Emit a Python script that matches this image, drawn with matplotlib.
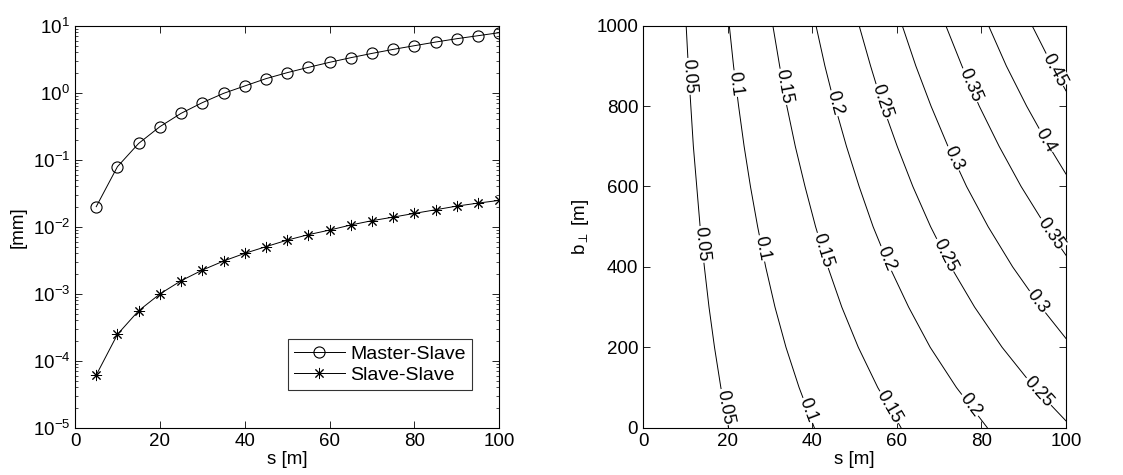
import matplotlib
matplotlib.use("Agg")
import matplotlib.pyplot as plt
import numpy as np

plt.rcParams["font.family"] = ["Liberation Sans", "DejaVu Sans"]
plt.rcParams["mathtext.fontset"] = "custom"
plt.rcParams["mathtext.rm"] = "Liberation Sans"
plt.rcParams["mathtext.it"] = "Liberation Sans:italic"
plt.rcParams["mathtext.bf"] = "Liberation Sans:bold"

# left panel: offsets vs s
s_vals = [5, 10, 15, 20, 25, 30, 35, 40, 45, 50, 55, 60, 65, 70, 75, 80, 85, 90, 95, 100]
master_slave = [0.0199, 0.0787, 0.175, 0.311, 0.492, 0.71, 0.977, 1.26, 1.62, 1.99,
                2.39, 2.84, 3.33, 3.86, 4.43, 5.03, 5.70, 6.40, 7.09, 7.87]
slave_slave = [6.1e-5, 2.47e-4, 5.57e-4, 9.9e-4, 1.56e-3, 2.25e-3, 3.07e-3, 4.0e-3, 5.03e-3, 6.3e-3,
               7.6e-3, 8.9e-3, 0.0106, 0.0123, 0.0139, 0.0158, 0.0179, 0.0203, 0.0225, 0.0247]

# right panel: contour lines, s position read at each b
levels = [0.05, 0.1, 0.15, 0.2, 0.25, 0.3, 0.35, 0.4, 0.45]
b_full = [0, 100, 200, 300, 400, 500, 600, 700, 800, 900, 1000]
line_b = [
    b_full,
    b_full,
    b_full,
    b_full,
    [17, 100, 200, 300, 400, 500, 600, 700, 800, 900, 1000],
    [222, 300, 400, 500, 600, 700, 800, 900, 1000],
    [429, 500, 600, 700, 800, 900, 1000],
    [631, 700, 800, 900, 1000],
    [838, 900, 1000],
]
line_s = [
    [20.2, 18.4, 16.9, 15.6, 14.5, 13.5, 12.7, 11.9, 11.3, 10.7, 10.2],
    [40.5, 36.9, 33.8, 31.2, 29.0, 27.1, 25.4, 23.9, 22.6, 21.4, 20.4],
    [61.0, 55.5, 50.9, 47.0, 43.7, 40.8, 38.3, 36.0, 34.0, 32.3, 30.7],
    [81.4, 74.1, 67.9, 62.8, 58.3, 54.4, 51.1, 48.1, 45.4, 43.0, 40.9],
    [100, 92.5, 84.9, 78.4, 72.8, 68.0, 63.8, 60.1, 56.7, 53.8, 51.1],
    [100, 94.1, 87.4, 81.6, 76.5, 72.1, 68.1, 64.5, 61.3],
    [100, 95.3, 89.4, 84.2, 79.5, 75.4, 71.6],
    [100, 96.0, 90.7, 85.9, 81.7],
    [100, 96.8, 92.0],
]
label_b = [
    [874, 456, 51],
    [856, 446, 43],
    [848, 441, 51],
    [807, 421, 56],
    [811, 429, 89],
    [670, 313],
    [852, 483],
    [715],
    [890],
]

fig = plt.figure(figsize=(11.23, 4.75), dpi=100)
fs = 13.5

ax1 = fig.add_axes([0.0668, 0.0996, 0.3778, 0.8463])
ax1.semilogy(s_vals, master_slave, "k-o", mfc="none", ms=8, lw=0.7, mew=0.8, label="Master-Slave")
ax1.semilogy(s_vals, slave_slave, "k-", marker=(8, 2, 0), ms=8, lw=0.7, mew=0.7, label="Slave-Slave")
ax1.set_xlim(0, 100)
ax1.set_ylim(1e-5, 10)
ax1.set_xticks([0, 20, 40, 60, 80, 100])
ax1.set_yticks([1e-5, 1e-4, 1e-3, 1e-2, 1e-1, 1, 10])
ax1.set_xlabel("s [m]", fontsize=fs, labelpad=1)
ax1.set_ylabel("[mm]", fontsize=fs, labelpad=4)
leg = ax1.legend(loc="lower right", bbox_to_anchor=(0.935, 0.094), fontsize=14,
                 frameon=True, fancybox=False, edgecolor="k", handlelength=2.6,
                 borderpad=0.3, labelspacing=0.2, handletextpad=0.3, borderaxespad=0)
leg.get_frame().set_linewidth(0.8)

ax2 = fig.add_axes([0.5726, 0.0996, 0.3766, 0.8463])
ax2.set_xlim(0, 100)
ax2.set_ylim(0, 1000)
for lvl, bs, ss, lbs in zip(levels, line_b, line_s, label_b):
    ax2.plot(ss, bs, "k-", lw=0.7, zorder=2)
    b_arr = np.array(bs, dtype=float)
    s_arr = np.array(ss, dtype=float)
    for lb in lbs:
        ls = np.interp(lb, b_arr, s_arr)
        p0 = ax2.transData.transform((np.interp(lb + 30, b_arr, s_arr), lb + 30))
        p1 = ax2.transData.transform((np.interp(lb - 30, b_arr, s_arr), lb - 30))
        ang = np.degrees(np.arctan2(p1[1] - p0[1], p1[0] - p0[0]))
        ax2.text(ls, lb, f"{lvl:g}", rotation=ang, rotation_mode="anchor",
                 ha="center", va="center", fontsize=13, zorder=3,
                 bbox=dict(boxstyle="square,pad=0.05", fc="white", ec="none"))
ax2.set_xticks([0, 20, 40, 60, 80, 100])
ax2.set_yticks([0, 200, 400, 600, 800, 1000])
ax2.set_xlabel("s [m]", fontsize=fs, labelpad=1)
ax2.set_ylabel(r"b$_{\perp}$ [m]", fontsize=fs, labelpad=4)

for ax in (ax1, ax2):
    ax.tick_params(which="both", direction="in", top=True, right=True, labelsize=fs)
    ax.tick_params(which="major", length=5, width=0.6)
    ax.tick_params(which="minor", length=2.5, width=0.5)
    for sp in ax.spines.values():
        sp.set_linewidth(0.8)

fig.savefig("out.png", dpi=100)
